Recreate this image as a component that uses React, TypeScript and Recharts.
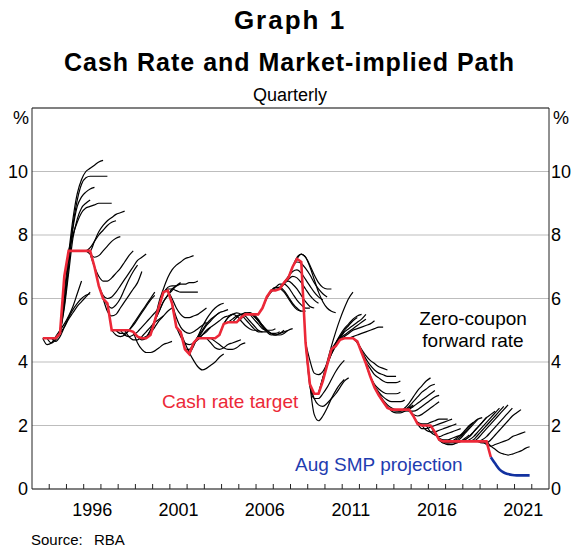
import { LineChart, Line, XAxis, YAxis, CartesianGrid, ReferenceLine } from 'recharts'

// quarterly observations, plotted at mid-quarter
const cashStart = 1993.625
const cashRate = [
  4.75, 4.75,
  4.75, 4.75, 4.9, 6.7,
  7.5, 7.5, 7.5, 7.5,
  7.5, 7.5, 7.0, 6.4,
  6.0, 5.85, 5.0, 5.0,
  5.0, 5.0, 5.0, 4.95,
  4.8, 4.75, 4.75, 4.85,
  5.3, 5.75, 6.2, 6.25,
  5.85, 5.1, 4.95, 4.4,
  4.25, 4.6, 4.75, 4.75,
  4.75, 4.75, 4.75, 4.85,
  5.2, 5.25, 5.25, 5.25,
  5.4, 5.5, 5.5, 5.5,
  5.5, 5.7, 6.05, 6.25,
  6.25, 6.3, 6.5, 6.65,
  7.0, 7.25, 7.15, 4.6,
  3.3, 3.0, 3.0, 3.4,
  3.9, 4.4, 4.5, 4.7,
  4.75, 4.75, 4.75, 4.65,
  4.3, 3.95, 3.55, 3.2,
  2.95, 2.75, 2.55, 2.5,
  2.5, 2.5, 2.5, 2.5,
  2.3, 2.05, 2.0, 2.0,
  2.0, 1.8, 1.55, 1.5,
  1.5, 1.5, 1.5, 1.5,
  1.5, 1.5, 1.5, 1.5,
  1.5, 1.5, 1.0,
]

const smpStart = 2019.625
const smpPath = [1.0, 0.8, 0.62, 0.52, 0.47, 0.44, 0.43, 0.43, 0.43, 0.43]

// zero-coupon forward curves: [first quarter, quarterly rates]
const fwd1990s: [number, number[]][] = [
  [1993.625, [4.75, 4.55, 4.6, 4.8, 5.0, 5.2, 5.45, 5.75, 6.15, 6.55]],
  [1993.875, [4.75, 4.6, 4.7, 4.9, 5.1, 5.35, 5.55, 5.75, 5.9, 6.05, 6.2]],
  [1994.125, [4.75, 4.65, 4.8, 5.1, 5.4, 5.65, 5.85, 6.0, 6.1, 6.15]],
  [1994.375, [4.75, 5.0, 6.2, 7.4, 8.5, 9.3, 9.75, 10.0, 10.1, 10.2, 10.3, 10.35]],
  [1994.375, [4.75, 4.95, 6.0, 7.2, 8.3, 9.1, 9.6, 9.8, 9.85, 9.85, 9.85, 9.85, 9.85]],
  [1994.625, [4.9, 5.8, 7.0, 8.2, 8.9, 9.2, 9.35, 9.45, 9.5]],
  [1994.625, [4.9, 5.7, 6.8, 7.9, 8.5, 8.85, 9.0, 9.1]],
  [1995.125, [7.5, 8.0, 8.4, 8.7, 8.85, 8.9, 8.95, 9.0, 9.0, 9.0, 9.0]],
  [1995.875, [7.5, 7.5, 7.6, 7.8, 8.0, 8.15, 8.3, 8.4, 8.45]],
  [1996.125, [7.5, 7.5, 7.8, 8.1, 8.3, 8.45, 8.55, 8.65, 8.7, 8.75]],
  [1996.125, [7.5, 7.4, 7.3, 7.35, 7.5, 7.65, 7.8, 7.9, 7.95]],
  [1996.375, [7.4, 7.0, 6.7, 6.55, 6.55, 6.65, 6.8, 6.95, 7.15, 7.35, 7.5]],
  [1996.875, [6.4, 6.1, 6.0, 6.05, 6.2, 6.4, 6.6, 6.8, 7.0, 7.2, 7.3, 7.4]],
  [1997.125, [6.0, 5.6, 5.45, 5.5, 5.7, 5.9, 6.1, 6.3, 6.5, 6.85]],
  [1997.125, [6.0, 5.8, 5.7, 5.8, 6.0, 6.3, 6.6, 6.85, 7.05]],
  [1997.625, [5.0, 4.85, 4.8, 4.85, 5.0, 5.2, 5.4, 5.6, 5.8, 6.0, 6.2]],
  [1997.875, [5.0, 4.9, 4.9, 5.0, 5.15, 5.35, 5.55, 5.75, 5.95, 6.1]],
  [1998.125, [5.0, 4.85, 4.8, 4.85, 4.95, 5.1, 5.25, 5.4, 5.55, 5.7]],
  [1998.375, [5.0, 4.8, 4.7, 4.7, 4.8, 4.95, 5.1, 5.25, 5.35, 5.45]],
  [1998.875, [4.95, 4.6, 4.4, 4.3, 4.3, 4.35, 4.45, 4.55, 4.6, 4.65]],
  [1999.125, [4.8, 4.7, 4.75, 4.9, 5.1, 5.3, 5.45, 5.6, 5.7]],
  [1999.375, [4.75, 4.8, 5.0, 5.3, 5.6, 5.9, 6.1, 6.3, 6.4]],
  [1999.625, [4.75, 5.0, 5.3, 5.6, 5.9, 6.1, 6.25, 6.4, 6.5]],
]

const fwd2000s: [number, number[]][] = [
  [2000.125, [5.3, 5.9, 6.3, 6.65, 6.9, 7.05, 7.15, 7.25, 7.3, 7.35]],
  [2000.375, [5.75, 6.15, 6.35, 6.4, 6.4, 6.45, 6.45, 6.5, 6.5, 6.55]],
  [2000.625, [6.2, 6.3, 6.3, 6.25, 6.2, 6.2, 6.2, 6.2, 6.2]],
  [2000.875, [6.25, 6.0, 5.7, 5.5, 5.4, 5.4, 5.45, 5.5, 5.6, 5.7]],
  [2001.125, [5.85, 5.4, 5.1, 4.95, 4.9, 4.95, 5.05, 5.15, 5.25]],
  [2001.375, [5.1, 4.8, 4.6, 4.55, 4.6, 4.7, 4.85, 5.0, 5.1]],
  [2001.625, [4.95, 4.6, 4.3, 4.05, 3.85, 3.75, 3.8, 3.9, 4.0, 4.15, 4.25]],
  [2001.875, [4.4, 4.4, 4.55, 4.75, 4.95, 5.15, 5.3, 5.45, 5.55]],
  [2002.125, [4.25, 4.5, 4.8, 5.1, 5.35, 5.55, 5.7, 5.8, 5.85]],
  [2002.375, [4.6, 4.8, 5.0, 5.2, 5.35, 5.45, 5.55, 5.6, 5.65]],
  [2002.625, [4.75, 4.85, 4.95, 5.1, 5.2, 5.3, 5.4, 5.45, 5.5]],
  [2003.125, [4.75, 4.6, 4.45, 4.4, 4.45, 4.55, 4.6, 4.65, 4.7]],
  [2003.375, [4.75, 4.65, 4.55, 4.45, 4.4, 4.4, 4.45, 4.55, 4.6]],
  [2003.875, [4.85, 5.2, 5.4, 5.5, 5.45, 5.3, 5.15, 5.05, 5.0, 5.0]],
  [2004.125, [5.2, 5.4, 5.5, 5.55, 5.5, 5.35, 5.2, 5.05, 4.95, 4.95]],
  [2004.375, [5.25, 5.35, 5.45, 5.5, 5.45, 5.3, 5.15, 5.0, 4.95, 4.95]],
  [2004.625, [5.25, 5.4, 5.5, 5.55, 5.5, 5.35, 5.2, 5.05, 5.0, 5.0, 5.05]],
  [2004.875, [5.25, 5.35, 5.5, 5.55, 5.45, 5.3, 5.15, 5.0, 4.9, 4.9, 4.95]],
  [2005.125, [5.4, 5.55, 5.55, 5.45, 5.3, 5.1, 4.95, 4.85, 4.85, 4.9, 5.0]],
  [2005.375, [5.5, 5.55, 5.5, 5.35, 5.15, 5.0, 4.9, 4.85, 4.9, 4.95, 5.0]],
  [2005.625, [5.5, 5.45, 5.3, 5.15, 5.0, 4.9, 4.85, 4.85, 4.9, 5.0, 5.05]],
  [2006.375, [5.7, 6.0, 6.2, 6.3, 6.3, 6.2, 6.0, 5.8, 5.65, 5.6]],
  [2006.625, [6.05, 6.25, 6.35, 6.35, 6.25, 6.05, 5.85, 5.7, 5.6, 5.6]],
  [2006.875, [6.25, 6.35, 6.45, 6.45, 6.35, 6.15, 5.95, 5.8, 5.7, 5.7]],
  [2007.125, [6.25, 6.35, 6.5, 6.55, 6.45, 6.3, 6.1, 5.9, 5.75, 5.7]],
  [2007.375, [6.3, 6.45, 6.6, 6.7, 6.65, 6.5, 6.3, 6.1, 5.95, 5.85]],
  [2007.625, [6.5, 6.7, 6.85, 6.9, 6.8, 6.6, 6.4, 6.2, 6.05, 5.95]],
  [2007.875, [6.65, 7.0, 7.15, 7.1, 6.95, 6.75, 6.5, 6.3, 6.15, 6.05]],
  [2008.125, [7.0, 7.3, 7.4, 7.3, 7.05, 6.75, 6.5, 6.35, 6.3, 6.3]],
  [2008.375, [7.25, 7.4, 7.3, 7.0, 6.6, 6.2, 5.9, 5.7, 5.6, 5.55]],
  [2008.875, [4.6, 4.05, 3.65, 3.6, 3.7, 3.95, 4.25, 4.5, 4.75, 4.95]],
  [2008.875, [4.6, 3.25, 2.85, 2.85, 3.0, 3.2, 3.45, 3.7, 3.9, 4.05]],
  [2009.125, [3.3, 2.35, 2.15, 2.3, 2.55, 2.85, 3.1, 3.3, 3.45]],
  [2009.125, [3.3, 2.85, 2.65, 2.6, 2.7, 2.85, 3.0, 3.2, 3.4, 3.5]],
  [2009.625, [3.0, 3.5, 4.0, 4.5, 4.95, 5.35, 5.7, 6.0, 6.2]],
  [2009.625, [3.0, 3.5, 3.9, 4.25, 4.55, 4.8, 5.0, 5.15, 5.3, 5.4]],
  [2009.875, [3.4, 3.95, 4.3, 4.6, 4.85, 5.05, 5.2, 5.35, 5.45, 5.5]],
]

const fwd2010s: [number, number[]][] = [
  [2010.125, [3.9, 4.3, 4.6, 4.8, 4.95, 5.05, 5.15, 5.25, 5.35, 5.5]],
  [2010.375, [4.4, 4.6, 4.75, 4.85, 4.95, 5.05, 5.15, 5.25, 5.35]],
  [2010.625, [4.5, 4.7, 4.8, 4.9, 5.0, 5.05, 5.1, 5.15, 5.2, 5.3]],
  [2011.375, [4.75, 4.8, 4.85, 4.9, 4.95, 5.0, 5.05, 5.1, 5.1]],
  [2011.625, [4.75, 4.6, 4.4, 4.2, 4.05, 3.95, 3.85, 3.8, 3.75]],
  [2011.875, [4.65, 4.35, 4.1, 3.9, 3.75, 3.65, 3.6, 3.55, 3.55, 3.55]],
  [2012.125, [4.3, 4.0, 3.8, 3.6, 3.5, 3.4, 3.35, 3.35, 3.35, 3.4]],
  [2012.375, [3.95, 3.55, 3.3, 3.15, 3.05, 3.0, 3.0, 3.0, 3.05]],
  [2012.625, [3.55, 3.25, 3.05, 2.9, 2.8, 2.75, 2.75, 2.75, 2.8]],
  [2012.875, [3.2, 3.0, 2.8, 2.65, 2.55, 2.5, 2.5, 2.5, 2.55, 2.6]],
  [2013.125, [2.95, 2.75, 2.6, 2.45, 2.4, 2.4, 2.45, 2.55, 2.65]],
  [2013.875, [2.5, 2.45, 2.45, 2.55, 2.7, 2.9, 3.1, 3.25, 3.4, 3.5]],
  [2014.125, [2.5, 2.45, 2.5, 2.6, 2.75, 2.9, 3.05, 3.15, 3.25, 3.3]],
  [2014.375, [2.5, 2.45, 2.5, 2.6, 2.7, 2.8, 2.9, 3.0, 3.1]],
  [2014.625, [2.5, 2.45, 2.45, 2.5, 2.6, 2.7, 2.8, 2.9, 2.95]],
  [2014.875, [2.5, 2.35, 2.3, 2.35, 2.45, 2.55, 2.65, 2.75]],
  [2015.125, [2.3, 2.1, 2.05, 2.05, 2.1, 2.15, 2.2, 2.2, 2.2]],
  [2015.375, [2.05, 1.9, 1.9, 1.95, 2.0, 2.05, 2.1, 2.15, 2.2]],
  [2015.625, [2.0, 1.85, 1.8, 1.8, 1.85, 1.9, 1.95, 2.0, 2.05]],
  [2015.875, [2.0, 1.8, 1.7, 1.65, 1.7, 1.75, 1.8, 1.85, 1.9]],
  [2016.125, [2.0, 1.75, 1.6, 1.55, 1.55, 1.6, 1.65, 1.7, 1.8]],
  [2016.375, [1.8, 1.55, 1.45, 1.4, 1.4, 1.45, 1.5, 1.6, 1.7]],
  [2016.625, [1.55, 1.45, 1.45, 1.5, 1.6, 1.7, 1.85, 2.0, 2.1]],
  [2016.875, [1.5, 1.45, 1.45, 1.5, 1.6, 1.75, 1.9, 2.05, 2.2]],
  [2017.125, [1.5, 1.5, 1.55, 1.65, 1.8, 1.95, 2.1, 2.2, 2.25]],
  [2017.375, [1.5, 1.45, 1.5, 1.55, 1.65, 1.8, 1.95, 2.1, 2.25]],
  [2017.625, [1.5, 1.5, 1.55, 1.65, 1.8, 1.95, 2.1, 2.25, 2.35, 2.45]],
  [2017.875, [1.5, 1.5, 1.55, 1.65, 1.8, 1.95, 2.1, 2.25, 2.4, 2.55]],
  [2018.125, [1.5, 1.5, 1.55, 1.7, 1.85, 2.0, 2.15, 2.3, 2.45, 2.6]],
  [2018.375, [1.5, 1.5, 1.6, 1.75, 1.9, 2.05, 2.2, 2.35, 2.5, 2.65]],
  [2018.625, [1.5, 1.5, 1.55, 1.65, 1.8, 1.95, 2.1, 2.25, 2.4, 2.55]],
  [2018.875, [1.5, 1.45, 1.45, 1.55, 1.7, 1.85, 2.0, 2.15, 2.3, 2.4, 2.5]],
  [2019.125, [1.5, 1.4, 1.35, 1.4, 1.45, 1.5, 1.55, 1.65, 1.7, 1.75, 1.8]],
  [2019.375, [1.5, 1.35, 1.25, 1.15, 1.1, 1.07, 1.1, 1.15, 1.2, 1.28, 1.33]],
]

const yTicks = [0, 2, 4, 6, 8, 10]
const yearTicks = [
  1994, 1995, 1996, 1997, 1998, 1999, 2000, 2001, 2002, 2003,
  2004, 2005, 2006, 2007, 2008, 2009, 2010, 2011, 2012, 2013,
  2014, 2015, 2016, 2017, 2018, 2019, 2020, 2021, 2022,
]
const labelYears = [1996, 2001, 2006, 2011, 2016, 2021]

const RED = '#ec2838'
const BLUE = '#1232a0'
const FONT = '"Liberation Sans", Arial, sans-serif'
const HALF_YEAR = 517 / 30 / 2

const toPoints = (start: number, rates: number[]) =>
  rates.map((v, i) => ({ t: start + i * 0.25, v }))

const forwards = [...fwd1990s, ...fwd2000s, ...fwd2010s]

function YearTick(props: any) {
  const { x, y, payload } = props
  const yr = payload.value
  return (
    <g>
      <line x1={x} x2={x} y1={y} y2={y - 5} stroke="#222" />
      {labelYears.includes(yr) && (
        <text x={x + HALF_YEAR} y={y + 27} textAnchor="middle" fontSize={18} fill="#000">
          {yr}
        </text>
      )}
    </g>
  )
}

export default function App() {
  return (
    <div style={{ position: 'relative', width: 575, height: 547, background: '#fff', fontFamily: FONT }}>
      <style>{'body{margin:0}'}</style>
      <LineChart width={575} height={547} margin={{ top: 108, right: 0, bottom: 0, left: 0 }}>
        <CartesianGrid vertical={false} stroke="#bdbdbd" yAxisId="left" />
        <XAxis
          dataKey="t"
          type="number"
          domain={[1993, 2023]}
          ticks={yearTicks}
          interval={0}
          allowDataOverflow
          height={58}
          tickLine={false}
          tickSize={0}
          tickMargin={0}
          axisLine={{ stroke: '#222' }}
          tick={(p: any) => <YearTick {...p} />}
        />
        <YAxis
          yAxisId="left"
          domain={[0, 12]}
          ticks={yTicks}
          interval={0}
          allowDataOverflow
          width={32}
          tickLine={false}
          tickSize={0}
          tickMargin={4}
          axisLine={{ stroke: '#222' }}
          tick={{ fontSize: 18, fill: '#000' }}
        />
        <YAxis
          yAxisId="right"
          orientation="right"
          domain={[0, 12]}
          ticks={yTicks}
          interval={0}
          allowDataOverflow
          width={26}
          tickLine={false}
          tickSize={0}
          tickMargin={2}
          axisLine={{ stroke: '#222' }}
          tick={{ fontSize: 18, fill: '#000' }}
        />
        <ReferenceLine yAxisId="left" y={12} stroke="#222" />
        {forwards.map(([start, rates], i) => (
          <Line
            key={'f' + i}
            data={toPoints(start, rates)}
            dataKey="v"
            yAxisId="left"
            type="monotone"
            stroke="#000"
            strokeWidth={1.2}
            dot={false}
            activeDot={false}
            isAnimationActive={false}
          />
        ))}
        <Line
          data={toPoints(cashStart, cashRate)}
          dataKey="v"
          yAxisId="left"
          type="linear"
          stroke={RED}
          strokeWidth={2.6}
          dot={false}
          activeDot={false}
          isAnimationActive={false}
        />
        <Line
          data={toPoints(smpStart, smpPath)}
          dataKey="v"
          yAxisId="right"
          type="monotone"
          stroke={BLUE}
          strokeWidth={2.6}
          dot={false}
          activeDot={false}
          isAnimationActive={false}
        />
      </LineChart>
      <svg width={575} height={547} style={{ position: 'absolute', left: 0, top: 0, pointerEvents: 'none' }}>
        <text x={290} y={29} textAnchor="middle" fontSize={26} fontWeight="bold" letterSpacing={2}>Graph 1</text>
        <text x={289.5} y={71} textAnchor="middle" fontSize={25} fontWeight="bold" letterSpacing={1}>
          Cash Rate and Market-implied Path
        </text>
        <text x={290} y={101} textAnchor="middle" fontSize={18}>Quarterly</text>
        <text x={13} y={124} fontSize={18}>%</text>
        <text x={553} y={124} fontSize={18}>%</text>
        <text x={162} y={407.5} fontSize={19} fill={RED}>Cash rate target</text>
        <text x={473} y={325} textAnchor="middle" fontSize={19}>Zero-coupon</text>
        <text x={473} y={347} textAnchor="middle" fontSize={19}>forward rate</text>
        <text x={295} y={471} fontSize={19} fill="#1f3db0">Aug SMP projection</text>
        <text x={31} y={545} fontSize={15}>Source:</text>
        <text x={94} y={545} fontSize={15}>RBA</text>
      </svg>
    </div>
  )
}
